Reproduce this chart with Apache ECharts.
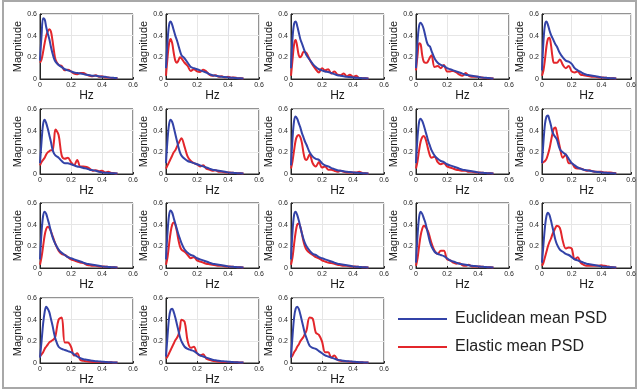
<!DOCTYPE html>
<html>
<head>
<meta charset="utf-8">
<script src="https://cdn.jsdelivr.net/npm/echarts@6/dist/echarts.min.js"></script>
<style>
  html, body { margin: 0; padding: 0; background: #fff; }
  #chart { width: 639px; height: 390px; }
</style>
</head>
<body>
<div id="chart"></div>
<script>
// Frequency grid (Hz) shared by every panel
const freqHz = [0,0.01,0.02,0.03,0.04,0.05,0.06,0.07,0.08,0.09,0.10,0.12,0.14,0.16,0.18,0.20,0.22,0.24,0.26,0.28,0.30,0.32,0.34,0.36,0.38,0.40,0.42,0.44,0.46,0.48,0.50];

// Euclidean mean PSD, one row per panel
const euclideanPSD = [
  [0.17,0.40,0.56,0.55,0.48,0.42,0.37,0.30,0.24,0.19,0.16,0.13,0.11,0.09,0.08,0.07,0.06,0.055,0.05,0.045,0.04,0.035,0.03,0.03,0.025,0.02,0.02,0.015,0.012,0.01,0.008],
  [0.10,0.35,0.50,0.53,0.50,0.45,0.40,0.36,0.31,0.26,0.22,0.19,0.15,0.11,0.10,0.09,0.08,0.07,0.06,0.045,0.035,0.03,0.025,0.02,0.018,0.015,0.012,0.01,0.008,0.006,0.005],
  [0.10,0.38,0.51,0.53,0.49,0.43,0.37,0.33,0.29,0.25,0.22,0.18,0.14,0.11,0.09,0.08,0.07,0.065,0.055,0.045,0.035,0.03,0.025,0.02,0.018,0.015,0.012,0.01,0.008,0.006,0.005],
  [0.10,0.35,0.49,0.52,0.50,0.46,0.40,0.34,0.31,0.30,0.26,0.19,0.15,0.13,0.12,0.10,0.09,0.08,0.07,0.06,0.05,0.04,0.035,0.03,0.025,0.02,0.015,0.012,0.01,0.008,0.005],
  [0.08,0.35,0.50,0.53,0.50,0.45,0.41,0.38,0.35,0.32,0.30,0.24,0.20,0.17,0.16,0.14,0.10,0.08,0.065,0.05,0.04,0.035,0.03,0.025,0.02,0.015,0.012,0.01,0.008,0.006,0.005],
  [0.10,0.30,0.46,0.50,0.47,0.42,0.36,0.30,0.23,0.19,0.17,0.15,0.12,0.10,0.10,0.09,0.08,0.07,0.065,0.055,0.05,0.04,0.035,0.03,0.02,0.015,0.012,0.01,0.008,0.006,0.005],
  [0.10,0.32,0.46,0.50,0.48,0.43,0.37,0.31,0.25,0.20,0.17,0.14,0.12,0.11,0.10,0.09,0.08,0.07,0.06,0.05,0.04,0.035,0.03,0.025,0.02,0.015,0.012,0.01,0.008,0.006,0.005],
  [0.08,0.33,0.49,0.53,0.51,0.47,0.43,0.38,0.34,0.30,0.27,0.20,0.16,0.14,0.13,0.10,0.08,0.07,0.055,0.045,0.035,0.03,0.025,0.02,0.018,0.015,0.012,0.01,0.008,0.006,0.005],
  [0.10,0.34,0.48,0.51,0.49,0.45,0.40,0.35,0.30,0.26,0.22,0.17,0.14,0.12,0.11,0.09,0.08,0.07,0.06,0.05,0.04,0.035,0.03,0.025,0.02,0.015,0.012,0.01,0.008,0.006,0.005],
  [0.10,0.30,0.46,0.53,0.54,0.50,0.45,0.39,0.36,0.34,0.32,0.23,0.20,0.18,0.14,0.10,0.08,0.06,0.05,0.04,0.035,0.03,0.025,0.02,0.018,0.015,0.012,0.01,0.008,0.006,0.005],
  [0.08,0.33,0.48,0.52,0.50,0.45,0.40,0.34,0.29,0.25,0.22,0.17,0.14,0.12,0.10,0.09,0.08,0.07,0.06,0.05,0.04,0.035,0.03,0.025,0.02,0.015,0.012,0.01,0.008,0.006,0.005],
  [0.08,0.33,0.49,0.53,0.51,0.46,0.41,0.36,0.31,0.27,0.23,0.17,0.14,0.12,0.11,0.09,0.08,0.07,0.06,0.05,0.04,0.035,0.03,0.025,0.02,0.015,0.012,0.01,0.008,0.006,0.005],
  [0.08,0.34,0.49,0.52,0.49,0.44,0.38,0.32,0.27,0.23,0.20,0.16,0.13,0.12,0.10,0.09,0.08,0.07,0.06,0.05,0.04,0.035,0.03,0.025,0.02,0.015,0.012,0.01,0.008,0.006,0.005],
  [0.05,0.30,0.47,0.52,0.50,0.46,0.42,0.36,0.30,0.24,0.20,0.15,0.13,0.12,0.11,0.09,0.07,0.06,0.05,0.04,0.035,0.03,0.025,0.02,0.018,0.015,0.012,0.01,0.008,0.006,0.005],
  [0.05,0.22,0.38,0.48,0.51,0.49,0.44,0.38,0.32,0.26,0.22,0.17,0.15,0.13,0.12,0.10,0.08,0.07,0.06,0.05,0.04,0.035,0.03,0.025,0.02,0.015,0.012,0.01,0.008,0.006,0.005],
  [0.05,0.20,0.36,0.47,0.52,0.50,0.47,0.41,0.35,0.28,0.22,0.15,0.13,0.12,0.11,0.10,0.08,0.06,0.045,0.035,0.03,0.025,0.02,0.017,0.015,0.012,0.01,0.008,0.006,0.005,0.004],
  [0.06,0.25,0.42,0.49,0.50,0.47,0.42,0.36,0.30,0.24,0.20,0.15,0.13,0.12,0.11,0.09,0.07,0.06,0.05,0.04,0.03,0.025,0.02,0.017,0.015,0.012,0.01,0.008,0.006,0.005,0.004],
  [0.05,0.25,0.42,0.50,0.52,0.50,0.45,0.39,0.33,0.27,0.23,0.16,0.14,0.13,0.11,0.09,0.07,0.06,0.05,0.04,0.03,0.025,0.02,0.017,0.015,0.012,0.01,0.008,0.006,0.005,0.004]
];

// Elastic mean PSD, one row per panel
const elasticPSD = [
  [0.15,0.18,0.25,0.33,0.40,0.44,0.46,0.44,0.36,0.26,0.18,0.13,0.12,0.08,0.085,0.07,0.05,0.045,0.055,0.055,0.04,0.03,0.025,0.035,0.02,0.025,0.015,0.015,0.01,0.01,0.008],
  [0.03,0.20,0.33,0.37,0.33,0.24,0.17,0.15,0.17,0.20,0.19,0.15,0.12,0.075,0.09,0.07,0.065,0.085,0.07,0.04,0.03,0.035,0.02,0.025,0.015,0.02,0.012,0.015,0.008,0.006,0.005],
  [0.03,0.18,0.32,0.36,0.30,0.22,0.20,0.22,0.25,0.25,0.24,0.18,0.13,0.09,0.06,0.10,0.08,0.09,0.05,0.07,0.04,0.035,0.05,0.025,0.04,0.02,0.03,0.01,0.008,0.006,0.005],
  [0.08,0.22,0.33,0.32,0.22,0.16,0.15,0.15,0.17,0.20,0.22,0.11,0.12,0.10,0.13,0.07,0.07,0.075,0.06,0.04,0.03,0.055,0.03,0.02,0.02,0.02,0.015,0.01,0.008,0.006,0.005],
  [0.03,0.08,0.18,0.30,0.37,0.38,0.32,0.21,0.15,0.15,0.15,0.18,0.13,0.10,0.12,0.07,0.06,0.07,0.04,0.035,0.03,0.025,0.02,0.02,0.015,0.015,0.012,0.01,0.008,0.006,0.005],
  [0.08,0.11,0.13,0.15,0.18,0.20,0.21,0.22,0.22,0.30,0.41,0.36,0.17,0.14,0.15,0.11,0.08,0.13,0.07,0.07,0.065,0.05,0.03,0.035,0.025,0.03,0.015,0.02,0.01,0.008,0.005],
  [0.05,0.08,0.11,0.14,0.17,0.20,0.22,0.25,0.28,0.31,0.33,0.25,0.16,0.12,0.10,0.09,0.07,0.08,0.05,0.04,0.03,0.035,0.02,0.02,0.015,0.015,0.012,0.01,0.008,0.006,0.005],
  [0.05,0.12,0.22,0.31,0.35,0.36,0.34,0.29,0.20,0.14,0.13,0.18,0.10,0.07,0.11,0.06,0.07,0.04,0.04,0.03,0.02,0.03,0.02,0.015,0.015,0.015,0.015,0.02,0.01,0.006,0.005],
  [0.05,0.12,0.22,0.30,0.34,0.35,0.33,0.28,0.22,0.17,0.15,0.16,0.11,0.09,0.10,0.07,0.06,0.05,0.04,0.035,0.03,0.03,0.02,0.02,0.015,0.015,0.012,0.01,0.008,0.006,0.005],
  [0.10,0.11,0.12,0.14,0.18,0.23,0.30,0.37,0.42,0.43,0.38,0.25,0.15,0.18,0.10,0.10,0.06,0.05,0.05,0.04,0.03,0.035,0.025,0.02,0.02,0.02,0.015,0.015,0.015,0.01,0.008],
  [0.03,0.10,0.20,0.30,0.36,0.38,0.37,0.34,0.30,0.26,0.22,0.16,0.13,0.12,0.10,0.08,0.07,0.06,0.05,0.045,0.03,0.025,0.02,0.02,0.015,0.015,0.012,0.01,0.008,0.006,0.005],
  [0.03,0.10,0.22,0.33,0.40,0.42,0.40,0.34,0.26,0.20,0.17,0.15,0.12,0.09,0.10,0.07,0.06,0.05,0.04,0.035,0.03,0.025,0.02,0.02,0.015,0.015,0.012,0.01,0.008,0.006,0.005],
  [0.03,0.10,0.22,0.33,0.40,0.41,0.38,0.32,0.25,0.20,0.17,0.14,0.12,0.10,0.09,0.07,0.06,0.05,0.045,0.04,0.03,0.025,0.02,0.02,0.015,0.015,0.012,0.01,0.008,0.006,0.005],
  [0.02,0.09,0.20,0.30,0.36,0.39,0.38,0.36,0.33,0.28,0.23,0.16,0.13,0.16,0.16,0.08,0.07,0.05,0.04,0.045,0.025,0.02,0.03,0.015,0.015,0.015,0.012,0.01,0.008,0.006,0.005],
  [0.02,0.05,0.10,0.15,0.20,0.24,0.27,0.31,0.34,0.37,0.39,0.37,0.25,0.18,0.19,0.18,0.08,0.10,0.05,0.03,0.02,0.02,0.02,0.02,0.02,0.025,0.02,0.015,0.01,0.006,0.005],
  [0.06,0.08,0.10,0.13,0.15,0.17,0.19,0.20,0.21,0.22,0.25,0.40,0.42,0.19,0.19,0.15,0.07,0.09,0.03,0.02,0.015,0.012,0.01,0.01,0.01,0.01,0.008,0.007,0.006,0.005,0.004],
  [0.04,0.06,0.09,0.12,0.15,0.18,0.21,0.23,0.26,0.32,0.40,0.38,0.20,0.14,0.15,0.09,0.07,0.08,0.04,0.03,0.02,0.015,0.012,0.01,0.01,0.01,0.008,0.007,0.006,0.005,0.004],
  [0.05,0.07,0.10,0.12,0.15,0.17,0.20,0.22,0.24,0.27,0.30,0.42,0.41,0.28,0.26,0.20,0.10,0.10,0.05,0.07,0.03,0.02,0.017,0.015,0.012,0.01,0.008,0.007,0.006,0.005,0.004]
];

const tickValues = [0, 0.2, 0.4, 0.6];
const seriesNames = ['Euclidean mean PSD', 'Elastic mean PSD'];

const BLUE = '#3343a8';
const RED = '#e3262b';
const FONT = '"Liberation Sans", Arial, Helvetica, sans-serif';

const colLeft = [40, 166, 291, 416, 542];
const rowTop = [14, 109, 203, 298];
const plotW = 93, plotH = 65;

const grids = [], xAxes = [], yAxes = [], series = [];
const fmt = v => (v === 0 ? '0' : v.toFixed(1));

euclideanPSD.forEach((row, i) => {
  const c = i % 5, r = Math.floor(i / 5);
  grids.push({
    left: colLeft[c], top: rowTop[r], width: plotW, height: plotH,
    show: true, borderColor: '#262626', borderWidth: 1, backgroundColor: '#fff'
  });
  const common = {
    type: 'value', gridIndex: i,
    min: tickValues[0], max: tickValues[tickValues.length - 1], interval: 0.2,
    nameLocation: 'middle',
    axisLine: { show: true, onZero: false, lineStyle: { color: '#262626', width: 1 } },
    axisTick: { show: true, inside: true, length: 2, lineStyle: { color: '#262626' } },
    splitLine: { show: true, lineStyle: { color: '#e6e6e6', width: 1 } },
    axisLabel: { fontSize: 7, color: '#262626', fontFamily: FONT, formatter: fmt }
  };
  xAxes.push(Object.assign({}, common, {
    name: 'Hz', nameGap: 6,
    nameTextStyle: { fontSize: 12, color: '#1a1a1a', fontFamily: FONT },
    axisLabel: Object.assign({}, common.axisLabel, { margin: 3 })
  }));
  yAxes.push(Object.assign({}, common, {
    name: 'Magnitude', nameGap: 11,
    nameTextStyle: { fontSize: 11, color: '#1a1a1a', fontFamily: FONT },
    axisLabel: Object.assign({}, common.axisLabel, { margin: 3 })
  }));
  series.push({
    name: seriesNames[0], type: 'line', xAxisIndex: i, yAxisIndex: i,
    data: freqHz.map((f, k) => [f, row[k]]),
    showSymbol: false, smooth: 0.35, z: 3,
    lineStyle: { color: BLUE, width: 2 }, itemStyle: { color: BLUE }
  });
  series.push({
    name: seriesNames[1], type: 'line', xAxisIndex: i, yAxisIndex: i,
    data: freqHz.map((f, k) => [f, elasticPSD[i][k]]),
    showSymbol: false, smooth: 0.35, z: 2,
    lineStyle: { color: RED, width: 2 }, itemStyle: { color: RED }
  });
});

const chart = echarts.init(document.getElementById('chart'), null, { renderer: 'canvas' });
chart.setOption({
  animation: false,
  backgroundColor: '#fff',
  grid: grids, xAxis: xAxes, yAxis: yAxes, series: series,
  legend: {
    data: seriesNames, orient: 'vertical', left: 393, top: 306,
    icon: 'rect', itemWidth: 49, itemHeight: 2, itemGap: 12,
    textStyle: { fontSize: 16, color: '#222', fontFamily: FONT, lineHeight: 16, padding: [0, 0, 0, 3] }
  },
  graphic: [{
    type: 'rect', silent: true, z: -1,
    shape: { x: 3, y: 1, width: 633, height: 387 },
    style: { fill: 'none', stroke: '#a8a8a8', lineWidth: 2 }
  }]
});
</script>
</body>
</html>
